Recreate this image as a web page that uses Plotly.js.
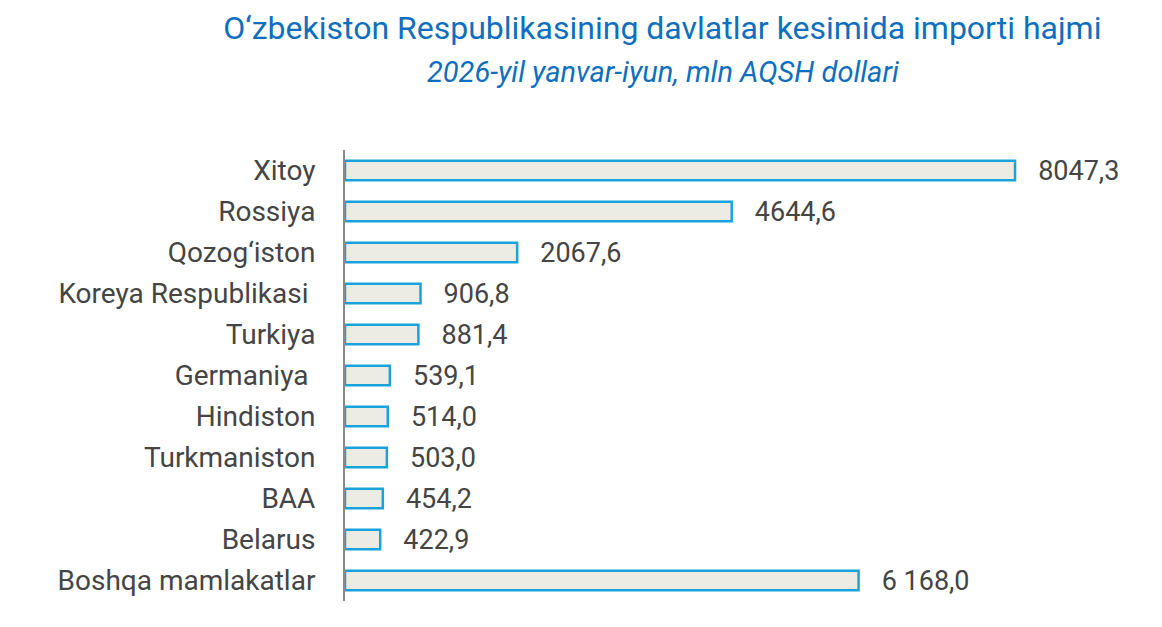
<!DOCTYPE html>
<html>
<head>
<meta charset="utf-8">
<script src="https://cdn.plot.ly/plotly-3.0.1.min.js"></script>
<style>
  html, body { margin: 0; padding: 0; background: #fff; }
  #chart { width: 1162px; height: 627px; }
</style>
</head>
<body>
<div id="chart"></div>
<script>
// Import by country, Jan-Jun 2026, mln USD
const countries = [
    "Xitoy", "Rossiya", "Qozog\u2018iston", "Koreya Respublikasi\u00a0", "Turkiya",
    "Germaniya\u00a0", "Hindiston", "Turkmaniston", "BAA", "Belarus", "Boshqa mamlakatlar"
];
const values = [8047.3, 4644.6, 2067.6, 906.8, 881.4, 539.1, 514.0, 503.0, 454.2, 422.9, 6168.0];
const valueLabels = ["8047,3", "4644,6", "2067,6", "906,8", "881,4", "539,1", "514,0", "503,0", "454,2", "422,9", "6 168,0"];

const FONT = "Roboto, 'Noto Sans', sans-serif";
const TEXT_COLOR = "#454545";

const bars = {
    type: 'bar',
    orientation: 'h',
    y: countries,
    x: values,
    text: valueLabels.map(s => "\u00a0\u00a0\u00a0" + s),
    textposition: 'outside',
    constraintext: 'none',
    cliponaxis: false,
    textfont: { family: FONT, size: 27, color: TEXT_COLOR },
    width: 0.48,
    marker: {
        color: '#ecebe4',
        line: { color: '#1aa3db', width: 2.5 }
    },
    hoverinfo: 'none'
};

const layout = {
    width: 1162,
    height: 627,
    margin: { l: 345, r: 30, t: 150, b: 26 },
    paper_bgcolor: '#ffffff',
    plot_bgcolor: '#ffffff',
    showlegend: false,
    title: {
        text: "O\u2018zbekiston Respublikasining davlatlar kesimida importi hajmi",
        font: { family: FONT, size: 32, color: '#0f6fbf' },
        x: 0.57,
        xanchor: 'center',
        y: 0.955,
        yanchor: 'middle'
    },
    annotations: [{
        text: "<i>2026-yil yanvar-iyun, mln AQSH dollari</i>",
        xref: 'paper', yref: 'paper',
        x: 0.404, y: 1.0,
        xanchor: 'center', yanchor: 'middle',
        yshift: 78,
        showarrow: false,
        font: { family: FONT, size: 29, color: '#0f6fbf' }
    }],
    xaxis: {
        range: [0, 9452],
        visible: false,
        fixedrange: true
    },
    yaxis: {
        autorange: 'reversed',
        showline: true,
        linecolor: '#8a8a8a',
        linewidth: 2,
        showgrid: false,
        zeroline: false,
        ticks: '',
        ticklabelstandoff: 22,
        tickfont: { family: FONT, size: 28, color: TEXT_COLOR },
        fixedrange: true
    }
};

Plotly.newPlot('chart', [bars], layout, { displayModeBar: false, staticPlot: true });
</script>
</body>
</html>
